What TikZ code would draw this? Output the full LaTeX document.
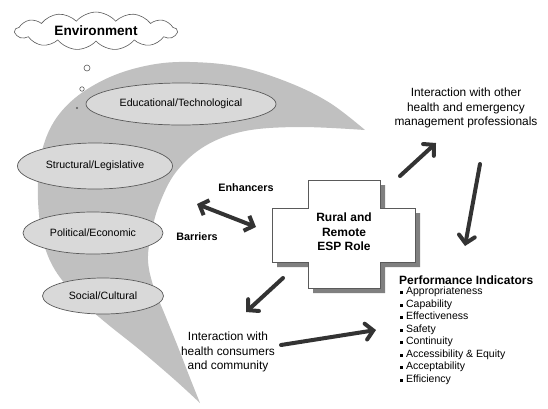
\documentclass[tikz,border=0pt]{standalone}
\usepackage{fontspec}
\setmainfont{Liberation Sans}
\usetikzlibrary{shapes.symbols,shapes.geometric,arrows.meta}
\definecolor{swoosh}{RGB}{192,192,192}
\definecolor{ellfill}{RGB}{217,217,217}
\definecolor{ellline}{RGB}{90,90,90}
\definecolor{arr}{RGB}{51,51,51}
\definecolor{shadowc}{RGB}{128,128,128}
\begin{document}
\begin{tikzpicture}[x=1pt,y=-1pt,
  factor/.style={ellipse, draw=ellline, line width=0.7pt, fill=ellfill, inner sep=0pt,
                 font=\fontsize{10.6}{12}\selectfont},
  bigarrow/.style={draw=arr, line width=4pt, line cap=round,
                   -{Straight Barb[length=7.5pt,width=16pt,line cap=round]}},
  dblarrow/.style={draw=arr, line width=4pt,
                   {Straight Barb[length=7.5pt,width=16pt]}-{Straight Barb[length=7.5pt,width=16pt]}},
  lbl/.style={inner sep=0pt, align=center},
  bubble/.style={circle, draw=ellline, fill=white, line width=0.6pt, inner sep=0pt}]
\useasboundingbox (0,0) rectangle (548,408);
\fill[white] (0,0) rectangle (548,408);

% swoosh background
\fill[swoosh] plot[smooth, tension=0.6] coordinates {(365,130) (330,103) (290,83) (240,67) (190,62) (150,65) (110,77) (75,98) (52,125) (40,160) (38,200) (43,240) (55,270) (78,298) (105,322) (140,350) (175,380) (200,403)}
  -- plot[smooth, tension=0.6] coordinates {(200,403) (190,378) (178,347) (165,315) (153,285) (148,260) (151,235) (159,205) (176,172) (205,146) (245,131) (300,127) (365,130)} -- cycle;

% cloud
\node[cloud, cloud puffs=13, cloud puff arc=100, aspect=4.6, draw=ellline, fill=white,
      line width=0.6pt, minimum width=162pt, minimum height=37pt, inner sep=0pt,
      font=\bfseries\fontsize{13.6}{15}\selectfont] (env) at (96,31) {Environment};
\node[bubble, minimum size=6pt] (b1) at (87,68) {};
\node[bubble, minimum size=4.5pt] (b2) at (82,89) {};
\node[circle, fill=ellline, inner sep=0pt, minimum size=2.4pt] (b3) at (77,108) {};

% factor ellipses
\node[factor, minimum width=190pt, minimum height=42pt] (edu) at (181,104) {Educational/Technological};
\node[factor, minimum width=155pt, minimum height=46pt] (str) at (95,166) {Structural/Legislative};
\node[factor, minimum width=140pt, minimum height=42pt] (pol) at (93,233) {Political/Economic};
\node[factor, minimum width=121pt, minimum height=36pt] (soc) at (103,296) {Social/Cultural};

% cross
\fill[shadowc] (313,185) -- (385,185) -- (385,213) -- (420,213) -- (420,267) -- (385,267) -- (385,293) -- (313,293) -- (313,267) -- (277,267) -- (277,213) -- (313,213) -- cycle;
\draw[ellline, fill=white, line width=0.7pt] (308,180) -- (380,180) -- (380,208) -- (415,208) -- (415,262) -- (380,262) -- (380,288) -- (308,288) -- (308,262) -- (272,262) -- (272,208) -- (308,208) -- cycle;
\node[lbl, font=\bfseries\fontsize{12}{14.3}\selectfont] (role) at (344,232) {Rural and\\Remote\\ESP Role};

% labels
\node[lbl, font=\bfseries\fontsize{10.8}{12}\selectfont] (enh) at (246,188) {Enhancers};
\node[lbl, font=\bfseries\fontsize{10.8}{12}\selectfont] (bar) at (197,237) {Barriers};
\node[lbl, font=\fontsize{11.9}{14.5}\selectfont] (prof) at (466,108) {Interaction with other\\health and emergency\\management professionals};
\node[lbl, font=\fontsize{11.9}{14.5}\selectfont] (cons) at (228,352) {Interaction with\\health consumers\\and community};
\node[lbl, anchor=west, font=\bfseries\fontsize{12}{13}\selectfont] (perf) at (399,280) {Performance Indicators};
\node[anchor=north west, inner sep=0pt, align=left, font=\fontsize{10.5}{12.5}\selectfont] (plist) at (400,287)
 {\rule[0.7pt]{3pt}{3pt} Appropriateness\\
  \rule[0.7pt]{3pt}{3pt} Capability\\
  \rule[0.7pt]{3pt}{3pt} Effectiveness\\
  \rule[0.7pt]{3pt}{3pt} Safety\\
  \rule[0.7pt]{3pt}{3pt} Continuity\\
  \rule[0.7pt]{3pt}{3pt} Accessibility \& Equity\\
  \rule[0.7pt]{3pt}{3pt} Acceptability\\
  \rule[0.7pt]{3pt}{3pt} Efficiency};

% arrow endpoints
\coordinate (dA) at (197,204);
\coordinate (dB) at (256,227);
\coordinate (uS) at (400,176);
\coordinate (uT) at (436,143);
\coordinate (vS) at (480,164);
\coordinate (vT) at (465,246);
\coordinate (lS) at (283,278);
\coordinate (lT) at (246,312);
\coordinate (rS) at (281,345);
\coordinate (rT) at (376,330);

\draw[dblarrow] (dA) -- (dB);
\draw[bigarrow] (uS) -- (uT);
\draw[bigarrow] (vS) -- (vT);
\draw[bigarrow] (lS) -- (lT);
\draw[bigarrow] (rS) -- (rT);
\end{tikzpicture}
\end{document}
